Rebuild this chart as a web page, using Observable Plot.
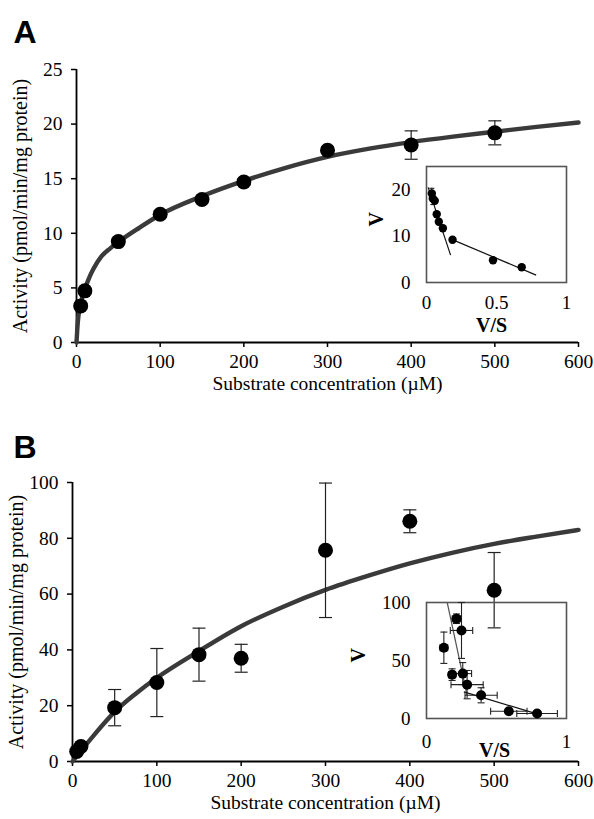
<!DOCTYPE html>
<html>
<head>
<meta charset="utf-8">
<script src="https://cdn.jsdelivr.net/npm/d3@7"></script>
<script src="https://cdn.jsdelivr.net/npm/@observablehq/plot@0.6"></script>
<style>
  html, body { margin: 0; padding: 0; background: #fff; }
  #wrap { position: relative; width: 594px; height: 819px; overflow: hidden; }
  #wrap svg { position: absolute; }
</style>
</head>
<body>
<div id="wrap"></div>
<script>
// ---------- Panel A data ----------
const substrateA = [5, 10, 50, 100, 150, 200, 300, 400, 500];
const activityA  = [3.35, 4.73, 9.24, 11.74, 13.1, 14.7, 17.6, 18.08, 19.2];
const errorA     = [0.2, 0.2, 0.3, 0.3, 0.3, 0.3, 0.3, 1.3, 1.1];
const fitXA = [0, 1, 2, 3, 5, 7.5, 10, 15, 20, 30, 40, 50, 75, 100, 150, 200, 250, 300, 350, 400, 450, 500, 550, 600];
const fitYA = [0, 1.3, 2.2, 2.8, 3.6, 4.3, 4.9, 5.9, 6.7, 7.9, 8.6, 9.2, 10.5, 11.7, 13.4, 14.8, 16.0, 17.0, 17.75, 18.35, 18.85, 19.3, 19.75, 20.15];
// inset A (Eadie-Hofstee)
const vsA   = [0.038, 0.045, 0.059, 0.073, 0.088, 0.117, 0.186, 0.475, 0.68];
const vA    = [19.2, 18.1, 17.6, 14.7, 13.1, 11.7, 9.2, 4.8, 3.3];
const vErrA = [1.1, 1.3, 0.6, 0.6, 0.6, 0.6, 0.6, 0.6, 0.6];
const vsErrA = [0.012, 0.012, 0.012, 0.012, 0.012, 0.012, 0.014, 0.016, 0.016];
const lineSteepA = {x: [0.012, 0.172], y: [20.5, 5.9]};
const lineShallowA = {x: [0.176, 0.783], y: [9.35, 1.6]};

// ---------- Panel B data ----------
const substrateB = [5, 10, 50, 100, 150, 200, 300, 400, 500];
const activityB  = [3.6, 5.4, 19.3, 28.3, 38.3, 37.0, 75.7, 86.1, 61.4];
const errorB     = [0.5, 0.8, 6.5, 12.2, 9.5, 5.0, 24.1, 4.1, 13.5];
const fitXB = [0, 10, 25, 50, 75, 100, 150, 200, 250, 300, 350, 400, 450, 500, 550, 600];
const fitYB = [0, 3.8, 9.3, 17.8, 24.3, 30, 39.6, 48.5, 55.5, 61.5, 66.5, 71, 74.8, 78, 80.6, 83];
// inset B
const vsB    = [0.124, 0.214, 0.25, 0.183, 0.259, 0.29, 0.39, 0.588, 0.79];
const vB     = [61, 86, 75.9, 37.8, 38.7, 29.2, 20, 6.3, 4.3];
const vErrB  = [13.5, 4.1, 24.1, 5.0, 9.5, 12.2, 6.5, 1.0, 1.0];
const vsErrB = [0.027, 0.03, 0.08, 0.025, 0.063, 0.115, 0.115, 0.13, 0.145];
const lineSteepB = {x: [0.148, 0.29], y: [100, 20]};
const lineShallowB = {x: [0.267, 0.8], y: [23, 3.5]};

const ticksX = [0, 100, 200, 300, 400, 500, 600];
const ticksYA = [0, 5, 10, 15, 20, 25];
const ticksYB = [0, 20, 40, 60, 80, 100];

const serif = "'Liberation Serif', 'Times New Roman', serif";
const sans = "'Liberation Sans', Arial, sans-serif";
const FS = 19.5;
const fmt = d => String(d);

const hcap = {draw(ctx, size) { const r = Math.sqrt(size / Math.PI); ctx.moveTo(-r, 0); ctx.lineTo(r, 0); }};
const vcap = {draw(ctx, size) { const r = Math.sqrt(size / Math.PI); ctx.moveTo(0, -r); ctx.lineTo(0, r); }};

function rows(xs, ys, es) { return xs.map((x, i) => ({x, y: ys[i], e: es[i]})); }
function pairs(xs, ys) { return xs.map((x, i) => ({x, y: ys[i]})); }

function mainPanel({pts, fit, yDomain, yTicks, letter, width, height, ml, mr, mt, mb, letterDx, letterDy}) {
  return Plot.plot({
    width, height, marginLeft: ml, marginRight: mr, marginTop: mt, marginBottom: mb,
    style: {fontFamily: serif, fontSize: FS + "px", overflow: "visible", background: "transparent"},
    x: {domain: [0, 600]},
    y: {domain: yDomain},
    marks: [
      Plot.axisX({ticks: ticksX, tickFormat: fmt, tickSize: 5, tickPadding: 7, label: null, fontSize: FS, strokeWidth: 1.5}),
      Plot.axisY({ticks: yTicks, tickFormat: fmt, tickSize: 5, tickPadding: 9, label: null, fontSize: FS, strokeWidth: 1.5}),
      Plot.ruleX([0], {stroke: "black", strokeWidth: 1.8}),
      Plot.ruleY([yDomain[0]], {stroke: "black", strokeWidth: 1.8}),
      Plot.line(fit, {x: "x", y: "y", stroke: "#3a3a3a", strokeWidth: 4.4, curve: "monotone-x"}),
      Plot.ruleX(pts, {x: "x", y1: d => d.y - d.e, y2: d => d.y + d.e, stroke: "#222", strokeWidth: 1.2}),
      Plot.dot(pts, {x: "x", y: d => d.y - d.e, symbol: hcap, r: 6.5, stroke: "#222", strokeWidth: 1.2, fill: "none"}),
      Plot.dot(pts, {x: "x", y: d => d.y + d.e, symbol: hcap, r: 6.5, stroke: "#222", strokeWidth: 1.2, fill: "none"}),
      Plot.dot(pts, {x: "x", y: "y", r: 7.5, fill: "black", stroke: "none"}),
      Plot.text(["Activity (pmol/min/mg protein)"], {frameAnchor: "left", dx: -56, rotate: -90, fontSize: FS + 0.5, fontFamily: serif, textAnchor: "middle", lineAnchor: "middle"}),
      Plot.text(["Substrate concentration (\u00b5M)"], {frameAnchor: "bottom", dy: 41, fontSize: FS, fontFamily: serif, lineAnchor: "middle"}),
      Plot.text([letter], {frameAnchor: "top-left", dx: letterDx, dy: letterDy, textAnchor: "start", lineAnchor: "bottom", fontSize: 32, fontWeight: "bold", fontFamily: sans})
    ]
  });
}

function insetPanel({pts, steep, shallow, yDomain, yTicks, xTicks, ml, mt, mb, vDx, vsDx, vsDy, xPad, dotR, capR, steepColor}) {
  const lines = [
    {x1: steep.x[0], y1: steep.y[0], x2: steep.x[1], y2: steep.y[1], c: steepColor},
    {x1: shallow.x[0], y1: shallow.y[0], x2: shallow.x[1], y2: shallow.y[1], c: "#111"}
  ];
  return Plot.plot({
    width: 240, height: 200, marginLeft: ml, marginRight: 14, marginTop: mt, marginBottom: mb,
    style: {fontFamily: serif, fontSize: "19px", overflow: "visible", background: "transparent"},
    x: {domain: [0, 1]},
    y: {domain: yDomain},
    marks: [
      Plot.frame({stroke: "#555", strokeWidth: 1.6}),
      Plot.axisX({ticks: xTicks, tickFormat: fmt, tickSize: 0, tickPadding: xPad, label: null, fontSize: 19}),
      Plot.axisY({ticks: yTicks, tickFormat: fmt, tickSize: 0, tickPadding: 16, label: null, fontSize: 19}),
      Plot.link(lines, {x1: "x1", y1: "y1", x2: "x2", y2: "y2", stroke: "c", strokeWidth: 1.2}),
      Plot.ruleX(pts, {x: "x", y1: d => d.y - d.e, y2: d => d.y + d.e, stroke: "#222", strokeWidth: 1.1}),
      Plot.dot(pts, {x: "x", y: d => d.y - d.e, symbol: hcap, r: capR, stroke: "#222", strokeWidth: 1.1, fill: "none"}),
      Plot.dot(pts, {x: "x", y: d => d.y + d.e, symbol: hcap, r: capR, stroke: "#222", strokeWidth: 1.1, fill: "none"}),
      Plot.link(pts, {x1: d => d.x - d.xe, x2: d => d.x + d.xe, y1: "y", y2: "y", stroke: "#222", strokeWidth: 1.1}),
      Plot.dot(pts, {x: d => d.x - d.xe, y: "y", symbol: vcap, r: capR, stroke: "#222", strokeWidth: 1.1, fill: "none"}),
      Plot.dot(pts, {x: d => d.x + d.xe, y: "y", symbol: vcap, r: capR, stroke: "#222", strokeWidth: 1.1, fill: "none"}),
      Plot.dot(pts, {x: "x", y: "y", r: dotR, fill: "black", stroke: "none"}),
      Plot.text(["V"], {frameAnchor: "left", dx: vDx, dy: 2, rotate: -90, fontSize: 20, fontWeight: "bold", fontFamily: serif, lineAnchor: "middle"}),
      Plot.text(["V/S"], {frameAnchor: "bottom", dx: vsDx, dy: vsDy, fontSize: 20, fontWeight: "bold", fontFamily: serif, lineAnchor: "middle"})
    ]
  });
}

const wrap = document.getElementById("wrap");

const a = mainPanel({
  pts: rows(substrateA, activityA, errorA), fit: pairs(fitXA, fitYA),
  yDomain: [0, 25], yTicks: ticksYA, letter: "A",
  width: 594, height: 400, ml: 76, mr: 16, mt: 69, mb: 58, letterDx: -63, letterDy: -27
});
a.style.left = "0px"; a.style.top = "0px";
wrap.appendChild(a);

const b = mainPanel({
  pts: rows(substrateB, activityB, errorB), fit: pairs(fitXB, fitYB),
  yDomain: [0, 100], yTicks: ticksYB, letter: "B",
  width: 594, height: 419, ml: 72, mr: 16, mt: 82, mb: 58, letterDx: -59, letterDy: -25
});
b.style.left = "0px"; b.style.top = "400px";
wrap.appendChild(b);

const ia = insetPanel({
  pts: vsA.map((x, i) => ({x, y: vA[i], e: vErrA[i], xe: vsErrA[i]})),
  steep: lineSteepA, shallow: lineShallowA,
  yDomain: [0, 25], yTicks: [0, 10, 20], xTicks: [0, 0.5, 1],
  ml: 86, mt: 26, mb: 58, vDx: -50, vsDx: -5, vsDy: 43, xPad: 13, dotR: 4.2, capR: 2.5, steepColor: "#111"
});
ia.style.left = "340px"; ia.style.top = "140px";
wrap.appendChild(ia);

const ib = insetPanel({
  pts: vsB.map((x, i) => ({x, y: vB[i], e: vErrB[i], xe: vsErrB[i]})),
  steep: lineSteepB, shallow: lineShallowB,
  yDomain: [0, 100], yTicks: [0, 50, 100], xTicks: [0, 1],
  ml: 86, mt: 32, mb: 52, vDx: -68, vsDx: -2, vsDy: 32, xPad: 16, dotR: 5, capR: 3.5, steepColor: "#555"
});
ib.style.left = "340px"; ib.style.top = "570px";
wrap.appendChild(ib);
</script>
</body>
</html>
